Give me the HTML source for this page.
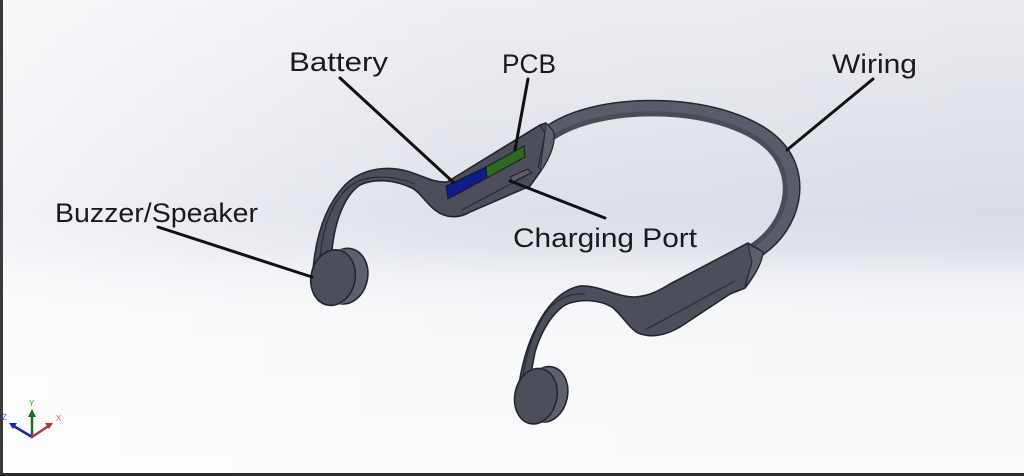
<!DOCTYPE html>
<html><head><meta charset="utf-8"><style>
html,body{margin:0;padding:0;width:1024px;height:476px;overflow:hidden;background:#fff}
svg{display:block}
text{font-family:"Liberation Sans","DejaVu Sans",sans-serif;fill:#1a1a1a}
</style></head><body>
<svg width="1024" height="476" viewBox="0 0 1024 476" xmlns="http://www.w3.org/2000/svg">
<defs>
<linearGradient id="bgv" x1="0" y1="0" x2="0" y2="1">
<stop offset="0" stop-color="#e9ebf0"/>
<stop offset="0.25" stop-color="#e1e3ea"/>
<stop offset="0.45" stop-color="#d9dce6"/>
<stop offset="0.52" stop-color="#dee1e9"/>
<stop offset="0.58" stop-color="#eceef3"/>
<stop offset="0.66" stop-color="#f6f7f9"/>
<stop offset="1" stop-color="#fbfbfc"/>
</linearGradient>
<linearGradient id="bgh" x1="0" y1="0" x2="1" y2="0">
<stop offset="0" stop-color="#ffffff" stop-opacity="0.65"/>
<stop offset="0.45" stop-color="#ffffff" stop-opacity="0.15"/>
<stop offset="1" stop-color="#ffffff" stop-opacity="0"/>
</linearGradient>
</defs>
<rect x="0" y="0" width="1024" height="476" fill="url(#bgv)"/>
<rect x="0" y="0" width="1024" height="476" fill="url(#bgh)"/>

<!-- band (wiring) -->
<path d="M548,134 C600,95 730,100 775,145 C805,175 795,225 757,250" fill="none" stroke="#24252d" stroke-width="16"/>
<path d="M548,134 C600,95 730,100 775,145 C805,175 795,225 757,250" fill="none" stroke="#5a5c69" stroke-width="13"/>
<path d="M551,139 C603,102 728,106 770,150 C796,178 788,222 752,246" fill="none" stroke="#4a4c58" stroke-width="5"/>

<!-- far body -->
<path d="M748,243 L763,252 C762,262 755,275 745,288 L730,294 L680,327 C665,336 650,338 638,333 C628,327 622,315 612,307 C600,300 580,298 565,305 C550,315 540,335 535,352 L530,378 L517,405 C518,380 525,350 535,330 C545,308 560,290 580,286 C600,285 615,297 635,297 C650,296 660,290 670,284 Z" fill="#4c4e5b" stroke="#24252d" stroke-width="1.6" stroke-linejoin="round"/>
<path d="M521,392 C524,360 532,333 545,314 C556,298 570,293 585,294" fill="none" stroke="#2a2b33" stroke-width="1.2"/>
<path d="M645,330 L735,281 M748,243 L752,262 L745,285" fill="none" stroke="#2a2b33" stroke-width="1.2"/>
<path d="M748,244 L763,252 C762,262 755,275 745,287 L752,262 Z" fill="#5d5f6d" stroke="#2a2b33" stroke-width="1"/>

<!-- far pad -->
<g transform="rotate(12 540 396)">
<ellipse cx="546" cy="393" rx="21" ry="28" fill="#5e606e" stroke="#24252d" stroke-width="1.6"/>
<ellipse cx="541" cy="395" rx="21" ry="28" fill="#5e606e"/>
<ellipse cx="546" cy="393" rx="20" ry="27" fill="#5e606e"/>
<ellipse cx="536" cy="397" rx="21" ry="28" fill="#4c4e5b" stroke="#24252d" stroke-width="1.6"/>
</g>

<!-- near arm + body -->
<path d="M313,270 C316,235 326,205 345,185 C360,170 385,164 410,172 C425,177 435,183 447,182 L540,125 L546,123 L553,131 C556,140 552,155 540,172 L530,186 L470,212 C458,219 445,218 435,210 C425,202 420,192 412,188 C395,180 375,178 360,185 C345,195 335,220 332,250 L328,262 Z" fill="#4c4e5b" stroke="#24252d" stroke-width="1.6" stroke-linejoin="round"/>
<path d="M320,258 C323,225 333,200 350,186 C365,175 390,174 415,184" fill="none" stroke="#2a2b33" stroke-width="1.2"/>
<path d="M462,210 L533,172 M540,125 L545,133 L538,168 M553,131 L545,133" fill="none" stroke="#2a2b33" stroke-width="1.2"/>
<path d="M546,123 L553,131 C556,140 552,155 540,172 L545,133 Z" fill="#5d5f6d" stroke="#2a2b33" stroke-width="1"/>

<!-- battery & pcb -->
<polygon points="446,186 486,167 487,178 448,199" fill="#0f1b86" stroke="#1a1a2a" stroke-width="1"/>
<polygon points="486,167 524,146 525,157 487,178" fill="#2b6a1f" stroke="#1a1a2a" stroke-width="1"/>
<!-- charging port -->
<polygon points="510,177 528,169 531,173 513,182" fill="#5b5d6a" stroke="#1f2028" stroke-width="1"/>

<!-- near pad -->
<g transform="rotate(12 335 278)">
<ellipse cx="345" cy="274" rx="22" ry="28" fill="#5e606e" stroke="#24252d" stroke-width="1.6"/>
<ellipse cx="339" cy="276" rx="22" ry="28" fill="#5e606e"/>
<ellipse cx="345" cy="274" rx="21" ry="27" fill="#5e606e"/>
<ellipse cx="333" cy="278" rx="22" ry="28" fill="#4c4e5b" stroke="#24252d" stroke-width="1.6"/>
</g>

<!-- leader lines -->
<g stroke="#111" stroke-width="3" stroke-linecap="round" fill="none">
<line x1="340" y1="78" x2="453" y2="182"/>
<line x1="528" y1="79" x2="515" y2="150"/>
<line x1="510" y1="181" x2="605" y2="218"/>
<line x1="873" y1="79" x2="787" y2="150"/>
<line x1="158" y1="227" x2="312" y2="277"/>
</g>

<!-- labels -->
<text x="289" y="71" font-size="27" textLength="99" lengthAdjust="spacingAndGlyphs">Battery</text>
<text x="502" y="73" font-size="27" textLength="54" lengthAdjust="spacingAndGlyphs">PCB</text>
<text x="832" y="73" font-size="27" textLength="85" lengthAdjust="spacingAndGlyphs">Wiring</text>
<text x="513" y="247" font-size="27" textLength="184" lengthAdjust="spacingAndGlyphs">Charging Port</text>
<text x="55" y="222" font-size="27" textLength="203" lengthAdjust="spacingAndGlyphs">Buzzer/Speaker</text>

<!-- axis triad -->
<g stroke-width="2.5" stroke-linecap="round">
<line x1="32" y1="437" x2="32" y2="414" stroke="#1e6b1e"/>
<line x1="32" y1="437" x2="12" y2="425" stroke="#1a22b0"/>
<line x1="32" y1="437" x2="50" y2="425" stroke="#c03030"/>
</g>
<polygon points="32,409 28,417 36,417" fill="#1e6b1e"/>
<polygon points="9,423 17,423 13,429" fill="#1a22b0"/>
<polygon points="53,423 45,423 49,429" fill="#c03030"/>
<text x="29" y="406" font-size="8" style="fill:#3a9a3a">Y</text>
<text x="2" y="420" font-size="8" style="fill:#4a5ae0">Z</text>
<text x="56" y="421" font-size="8" style="fill:#e05050">X</text>

<!-- borders -->
<rect x="0" y="0" width="3" height="476" fill="#3a3a3a"/>
<rect x="0" y="473" width="1024" height="3" fill="#2a2a2a"/>
</svg>
</body></html>
